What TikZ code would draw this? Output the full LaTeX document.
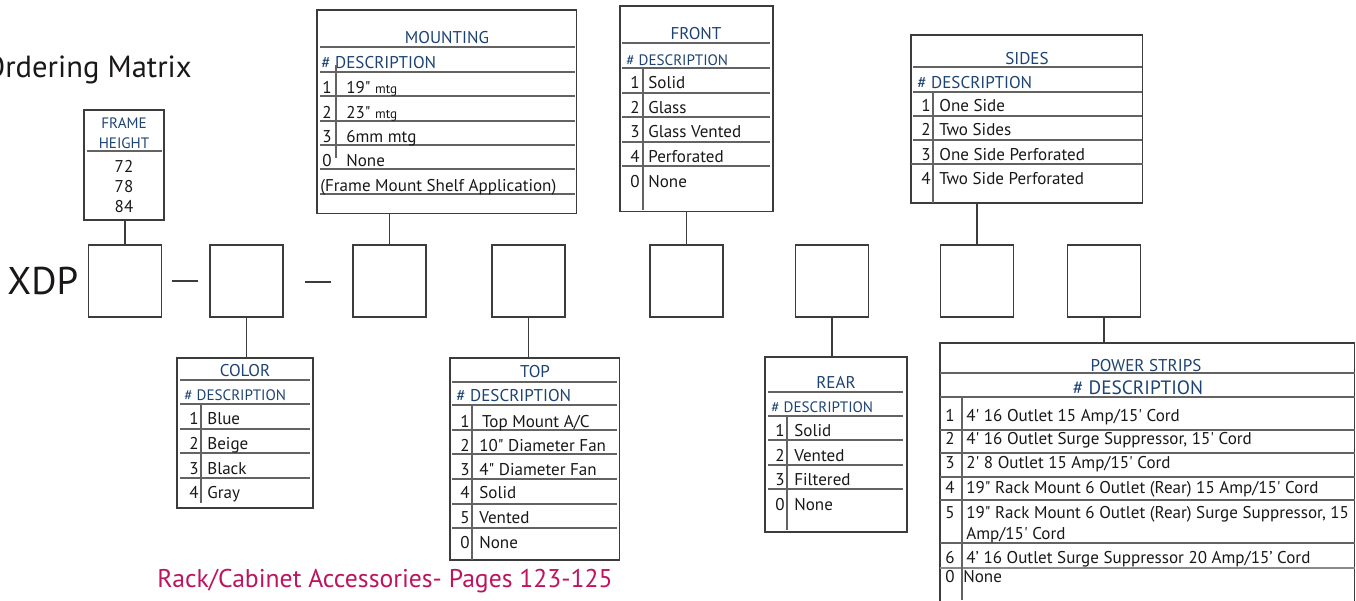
\documentclass[tikz,border=0pt]{standalone}
\usepackage{fontspec}
\newfontfamily\ptsans{PT Sans}
\usepackage{xcolor}
\usetikzlibrary{positioning}
\definecolor{hdblue}{HTML}{1D4373}
\definecolor{pagered}{HTML}{BE1460}
\definecolor{rulegray}{HTML}{3C3C3C}
\definecolor{inkgray}{HTML}{1A1718}

\begin{document}
\begin{tikzpicture}[
    x=0.02cm, y=-0.02cm,
    font=\ptsans\fontsize{9.7}{10}\selectfont, text=inkgray,
    slot/.style={draw=rulegray, line width=0.6pt, minimum width=1.46cm, minimum height=1.44cm, inner sep=0pt, outer sep=0pt},
    frame/.style={draw=rulegray, line width=0.6pt, anchor=north west, inner sep=0pt, outer sep=0pt},
    rule/.style={draw=rulegray!80, line width=0.6pt},
    link/.style={draw=rulegray, line width=0.6pt},
    hd/.style={text=hdblue, anchor=base, inner sep=0pt},
    hdsmall/.style={hd, font=\ptsans\fontsize{8.6}{9}\selectfont},
    num/.style={anchor=base east, inner sep=0pt},
    desc/.style={anchor=base west, inner sep=0pt}
  ]
    \useasboundingbox (0,0) rectangle (1356,600);
    \clip (0,0) rectangle (1356,600);

    \node[font=\ptsans\fontsize{17.4}{19}\selectfont, anchor=base east, inner sep=0pt] (title) at (192,77) {Ordering Matrix};

    % code slots
    \node[slot] (s1) at (125,281) {};
    \node[slot] (s2) at (246.5,281) {};
    \node[slot] (s3) at (389.5,281) {};
    \node[slot] (s4) at (528.5,281) {};
    \node[slot] (s5) at (686.5,281) {};
    \node[slot] (s6) at (832,281) {};
    \node[slot] (s7) at (977,281) {};
    \node[slot] (s8) at (1104,281) {};
    \node[font=\ptsans\fontsize{22}{24}\selectfont, inner sep=0pt, left=0.2cm of s1] (xdp) {XDP};
    \draw[link] (172,281) -- (198,281);
    \draw[link] (305,282) -- (331,282);

    % frame height
    \node[frame, minimum width=1.6cm, minimum height=2.2cm] (height) at (84,110) {};
    \node[hd, font=\ptsans\fontsize{8.6}{9}\selectfont] (height-a) at (124,128) {FRAME};
    \node[hd, font=\ptsans\fontsize{8.6}{9}\selectfont] (height-b) at (124,148) {HEIGHT};
    \draw[rule] (87,151) -- (162,151);
    \foreach \y/\v in {172/72, 192/78, 212/84}
      \node[anchor=base, inner sep=0pt] (height-\v) at (124,\y) {\v};

    % mounting
    \node[frame, minimum width=5.2cm, minimum height=4.08cm] (mounting) at (317,10) {};
    \node[hd] (mounting-t) at (447,43) {MOUNTING};
    \node[hd, anchor=base west] (mounting-h) at (321,68) {\# DESCRIPTION};
    \foreach \y in {47,72,96,121,145,169,194}
      \draw[rule] (320,\y) -- (575,\y);
    \draw[rule] (336,65) -- (336,158);
    \foreach \y/\n/\t in {93/1/{19" {\fontsize{7.5}{8}\selectfont mtg}}, 118/2/{23" {\fontsize{7.5}{8}\selectfont mtg}},
                          142/3/{6mm mtg}, 166/0/{None}} {
      \node[num] (mounting-n\n) at (332,\y) {\n};
      \node[desc] (mounting-d\n) at (346,\y) {\t};
    }
    \node[desc] (mounting-x) at (320,191) {(Frame Mount Shelf Application)};

    % front
    \node[frame, minimum width=3.06cm, minimum height=4.12cm] (front) at (620,6) {};
    \node[hd] (front-t) at (696,39) {FRONT};
    \node[hdsmall, anchor=base west] (front-h) at (626,65) {\# DESCRIPTION};
    \foreach \y in {43,68,93,117,142,166}
      \draw[rule] (622,\y) -- (770,\y);
    \draw[rule] (643,68) -- (643,210);
    \foreach \y/\n/\t in {88/1/{Solid}, 113/2/{Glass}, 137/3/{Glass Vented}, 162/4/{Perforated}, 187/0/{None}} {
      \node[num] (front-n\n) at (640,\y) {\n};
      \node[desc] (front-d\n) at (648,\y) {\t};
    }

    % sides
    \node[frame, minimum width=4.64cm, minimum height=3.36cm] (sides) at (911,35) {};
    \node[hd] (sides-t) at (1027,64) {SIDES};
    \node[hd, anchor=base west] (sides-h) at (917,88) {\# DESCRIPTION};
    \foreach \y in {67,92,116,140}
      \draw[rule] (913,\y) -- (1142,\y);
    \draw[rule] (911,164) -- (1143,164);
    \draw[rule] (933,92) -- (933,203);
    \foreach \y/\n/\t in {111/1/{One Side}, 135/2/{Two Sides}, 160/3/{One Side Perforated}, 184/4/{Two Side Perforated}} {
      \node[num] (sides-n\n) at (931,\y) {\n};
      \node[desc] (sides-d\n) at (939,\y) {\t};
    }

    % color
    \node[frame, minimum width=2.72cm, minimum height=3.0cm] (color) at (177,358) {};
    \node[hd] (color-t) at (245,376) {COLOR};
    \node[hdsmall, anchor=base west] (color-h) at (184,400) {\# DESCRIPTION};
    \foreach \y in {380,404,429,453,478}
      \draw[rule] (180,\y) -- (310,\y);
    \draw[rule] (201,404) -- (201,503);
    \foreach \y/\n/\t in {424/1/{Blue}, 449/2/{Beige}, 474/3/{Black}, 498/4/{Gray}} {
      \node[num] (color-n\n) at (199,\y) {\n};
      \node[desc] (color-d\n) at (207,\y) {\t};
    }

    % top
    \node[frame, minimum width=3.4cm, minimum height=4.04cm] (top) at (450,358) {};
    \node[hd] (top-t) at (535,377) {TOP};
    \node[hd, anchor=base west] (top-h) at (456,401) {\# DESCRIPTION};
    \foreach \y in {382,405,430,454,479,504,528}
      \draw[rule] (452,\y) -- (617,\y);
    \draw[rule] (472,405) -- (472,560);
    \foreach \y/\n/\t in {427/1/{\,Top Mount A/C}, 451/2/{10" Diameter Fan}, 475/3/{4" Diameter Fan},
                          498/4/{Solid}, 523/5/{Vented}, 548/0/{None}} {
      \node[num] (top-n\n) at (470,\y) {\n};
      \node[desc] (top-d\n) at (479,\y) {\t};
    }

    % rear
    \node[frame, minimum width=2.84cm, minimum height=3.5cm] (rear) at (765,357) {};
    \node[hd] (rear-t) at (836,388) {REAR};
    \node[hdsmall, anchor=base west] (rear-h) at (771,412) {\# DESCRIPTION};
    \foreach \y in {392,416,440,465,489}
      \draw[rule] (768,\y) -- (903,\y);
    \draw[rule] (787,416) -- (787,530);
    \foreach \y/\n/\t in {436/1/{Solid}, 461/2/{Vented}, 485/3/{Filtered}, 510/0/{None}} {
      \node[num] (rear-n\n) at (785,\y) {\n};
      \node[desc] (rear-d\n) at (794,\y) {\t};
    }

    % power strips
    \node[frame, minimum width=8.3cm, minimum height=6cm] (power) at (940,343) {};
    \node[hd] (power-t) at (1146,371) {POWER STRIPS};
    \node[hd, font=\ptsans\fontsize{11}{12}\selectfont] (power-h) at (1138,394) {\# DESCRIPTION};
    \foreach \y in {373,397,430,453,477,500,543}
      \draw[rule] (940,\y) -- (1355,\y);
    \draw[rule, draw=rulegray!60, line width=1pt] (940,568) -- (1355,568);
    \draw[rule] (962,397) -- (962,600);
    \foreach \y/\n/\t in {421/1/{4' 16 Outlet 15 Amp/15' Cord}, 444/2/{4' 16 Outlet Surge Suppressor, 15' Cord},
                          468/3/{2' 8 Outlet 15 Amp/15' Cord}, 493/4/{19" Rack Mount 6 Outlet (Rear) 15 Amp/15' Cord},
                          518/5/{19" Rack Mount 6 Outlet (Rear) Surge Suppressor, 15},
                          563/6/{4’ 16 Outlet Surge Suppressor 20 Amp/15’ Cord}} {
      \node[num] (power-n\n) at (955,\y) {\n};
      \node[desc] (power-d\n) at (966,\y) {\t};
    }
    \node[desc] (power-d5b) at (966,539) {Amp/15' Cord};
    \node[num] (power-n0) at (955,582) {0};
    \node[desc] (power-d0) at (963,582) {None};

    % connectors
    \draw[link] (s1.north) -- (s1.north |- height.south);
    \draw[link] (s2.south) -- (s2.south |- color.north);
    \draw[link] (s3.north) -- (s3.north |- mounting.south);
    \draw[link] (s4.south) -- (s4.south |- top.north);
    \draw[link] (s5.north) -- (s5.north |- front.south);
    \draw[link] (s6.south) -- (s6.south |- rear.north);
    \draw[link] (s7.north) -- (s7.north |- sides.south);
    \draw[link] (s8.south) -- (s8.south |- power.north);

    \node[font=\ptsans\fontsize{14.6}{16}\selectfont, text=pagered, anchor=base west, inner sep=0pt] (pages) at (157,587) {Rack/Cabinet Accessories- Pages 123-125};
\end{tikzpicture}
\end{document}
